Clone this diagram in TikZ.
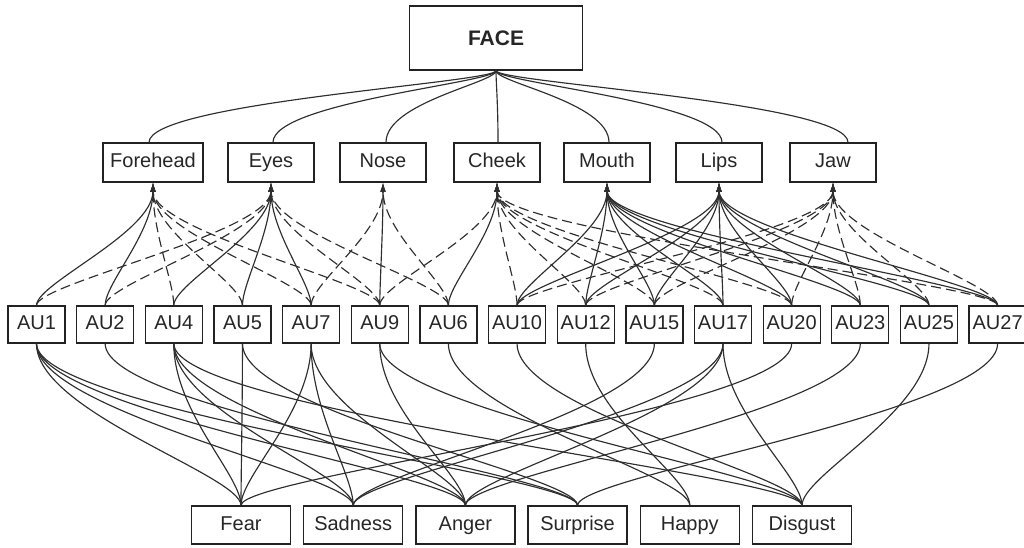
\documentclass[tikz,border=0pt]{standalone}
\usepackage{fontspec}
\setmainfont{Liberation Sans}
\usetikzlibrary{arrows.meta}
\definecolor{boxc}{HTML}{222222}
\definecolor{linec}{HTML}{2E2E2E}
\begin{document}
\begin{tikzpicture}[x=1pt,y=-1pt,
  box/.style={draw=boxc,line width=1.3pt,inner sep=0pt,text=black!85,
    text height=14pt,text depth=4pt,font=\fontsize{20}{23}\selectfont},
  part/.style={box,minimum width=86pt,minimum height=39pt},
  au/.style={box,minimum width=57pt,minimum height=37pt},
  emo/.style={box,minimum width=99pt,minimum height=38pt},
  link/.style={draw=linec,line width=1.15pt},
  infl/.style={link,-{Latex[length=9pt,width=5.5pt]}},
  weak/.style={infl,dash pattern=on 10pt off 5pt},
]
\useasboundingbox (0,0) rectangle (1024,547);

% root
\node[box,minimum width=173pt,minimum height=64pt,text height=15pt,text depth=0pt,
      font=\fontsize{21}{24}\selectfont\bfseries] (face) at (496,38) {FACE};

% facial regions
\node[part,minimum width=100pt] (fh) at (153,162.5) {Forehead};
\node[part] (ey) at (271,162.5) {Eyes};
\node[part] (no) at (383,162.5) {Nose};
\node[part] (ch) at (497,162.5) {Cheek};
\node[part] (mo) at (607,162.5) {Mouth};
\node[part] (li) at (719,162.5) {Lips};
\node[part] (ja) at (833,162.5) {Jaw};

% action units
\foreach \n [count=\i from 0] in {1,2,4,5,7,9,6,10,12,15,17,20,23,25,27}
  \node[au] (au\n) at ({36.5+68.65*\i},324.5) {AU\n};

% emotions
\foreach \e/\t [count=\i from 0] in {fe/Fear,sa/Sadness,an/Anger,su/Surprise,ha/Happy,di/Disgust}
  \node[emo] (\e) at ({241+112.2*\i},525) {\t};

% face to regions
\foreach \p/\dx in {fh/-4,ey/2,no/3,ch/1,mo/2,li/3,ja/15}
  \draw[link] (face.south) .. controls +(0,12) and +(0,-40) .. ([xshift=\dx pt]\p.north);

% action units to regions, direct
\foreach \a/\p in {1/fh,2/fh,4/ey,5/ey,7/ey,9/no,6/ch,
    10/mo,12/mo,15/mo,17/mo,20/mo,23/mo,25/mo,27/mo,
    10/li,12/li,15/li,17/li,20/li,23/li,25/li,27/li}
  \draw[infl] (au\a.north) .. controls +(0,-22) and +(0,50) .. (\p.south);

% action units to regions, indirect
\foreach \a/\p in {4/fh,5/fh,7/fh,9/fh,
    1/ey,2/ey,9/ey,6/ey,
    7/no,6/no,
    9/ch,10/ch,12/ch,15/ch,17/ch,20/ch,27/ch,
    10/ja,12/ja,15/ja,20/ja,23/ja,25/ja,27/ja}
  \draw[weak] (au\a.north) .. controls +(0,-22) and +(0,50) .. (\p.south);

% action units to emotions
\foreach \a/\e in {1/fe,1/sa,1/an,1/su,2/su,
    4/fe,4/sa,4/an,4/di,5/fe,5/su,
    7/fe,7/sa,7/an,9/an,9/di,6/ha,
    10/di,12/ha,15/sa,17/sa,17/an,17/di,
    20/fe,23/an,25/di,27/su}
  \draw[link] (au\a.south) .. controls +(0,68) and +(0,-30) .. (\e.north);
\end{tikzpicture}
\end{document}
